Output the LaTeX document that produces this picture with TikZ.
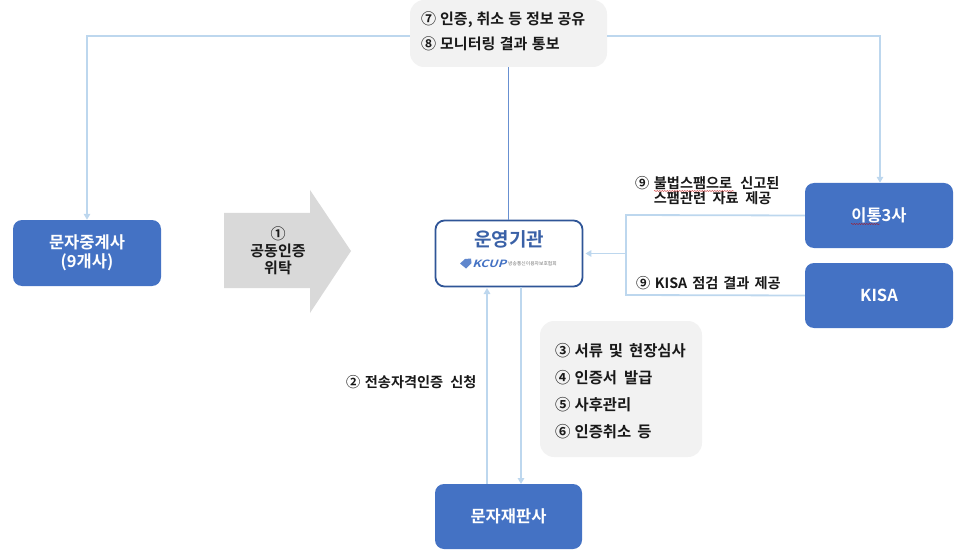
\documentclass[tikz,border=0pt]{standalone}
\usepackage{fontspec}
\setmainfont{Noto Sans CJK KR}[BoldFont={Noto Sans CJK KR Bold}]
\usetikzlibrary{arrows.meta,decorations.pathmorphing}
\definecolor{boxblue}{HTML}{4472C4}
\definecolor{linkblue}{HTML}{BDD7EE}
\definecolor{darkedge}{HTML}{2F5597}
\definecolor{softgray}{HTML}{F2F2F2}
\definecolor{arrowgray}{HTML}{D9D9D9}
\newcommand{\numgap}{\hspace{4.5pt}}
\newcommand{\wg}[1]{\hspace{#1pt}}
\tikzset{
  x=1pt,y=-1pt,
  bluebox/.style={draw=none,fill=boxblue,rounded corners=9pt,text=white,font=\fontsize{16.5}{19.5}\selectfont\bfseries,align=center,minimum width=148pt,minimum height=66pt,inner sep=0pt},
  graybox/.style={draw=none,fill=softgray,rounded corners=14pt,inner sep=0pt},
  lbl/.style={font=\fontsize{14.2}{15.2}\selectfont\bfseries,text=black!90,anchor=west,inner sep=0pt},
  lbltop/.style={lbl,font=\fontsize{15}{16}\selectfont\bfseries},
  lblside/.style={lbl,font=\fontsize{15.4}{16}\selectfont\bfseries},
  link/.style={draw=linkblue,line width=1.8pt},
  linkar/.style={link,-{Triangle[length=6pt,width=6.5pt]}},
  squiggle/.style={draw=red!75!black,line width=.35pt,decorate,decoration={snake,amplitude=.5pt,segment length=2.5pt}}
}
\begin{document}
\begin{tikzpicture}
\useasboundingbox (0,0) rectangle (966,556);
\node[bluebox] (relay) at (87,253) {문자중계사\\(9개사)};
\node[bluebox,minimum height=65pt] (carrier) at (879,215.5) {이통3사};
\node[bluebox,minimum height=65pt] (kisa) at (879,295.5) {KISA};
\node[bluebox,minimum width=147pt,minimum height=65pt] (resale) at (508.5,516.5) {문자재판사};
\node[draw=darkedge,line width=1.8pt,fill=white,rounded corners=9pt,minimum width=147pt,minimum height=66pt,inner sep=0pt] (op) at (509,253.5) {};
\node[font=\fontsize{19}{22}\selectfont\bfseries,text=boxblue!85!black,inner sep=0pt] (optitle) at (509,239) {운영기관};
\node[font=\fontsize{10}{10}\selectfont\bfseries\addfontfeature{FakeSlant=0.25},text=boxblue,inner sep=0pt,anchor=west,xscale=1.25] (kcup) at (472,263.5) {KCUP};
\node[font=\fontsize{4.8}{5}\selectfont,text=black!55,inner sep=0pt,anchor=west] (kcupname) at (508,263.5) {방송통신이용자보호협회};
\path[fill=boxblue!85] (460,263.5) -- (465,259) -- (471,258.5) -- (471.5,263) -- (466,268.5) -- cycle;
\node[graybox,minimum width=197pt,minimum height=67pt] (topnote) at (508.5,33.5) {};
\node[graybox,minimum width=162pt,minimum height=136pt] (sidenote) at (621,389) {};
\coordinate (tl) at (87,36);
\coordinate (tr) at (880,36);
\coordinate (jt) at (626,215);
\coordinate (jb) at (626,295);
\coordinate (jm) at (626,253.5);
\draw[linkar] (topnote.west |- 0,36) -- (tl) -- (relay.north);
\draw[linkar] (topnote.east |- 0,36) -- (tr) -- (tr |- carrier.north);
\draw[draw=boxblue!70!linkblue,line width=.9pt] (topnote.south) -- (topnote.south |- op.north);
\draw[link] (carrier.west) -- (jt) -- (jb) -- (kisa.west);
\draw[linkar] (jm) -- ([xshift=2pt]op.east);
\draw[linkar] (487,484) coordinate (ru) -- (487,288);
\draw[linkar] (521,287) coordinate (rd) -- (521,484);
\path[fill=arrowgray] (224,213) -- (310,213) -- (310,190) -- (351,251) -- (310,313) -- (310,288) -- (224,288) -- cycle;
\node[font=\fontsize{15}{17}\selectfont\bfseries,align=center,text=black!90,inner sep=0pt] (n1) at (278,251) {①\\공동인증\\위탁};
\node[lbltop] (n7) at (421,20) {⑦\wg{4}인증,\wg{4}취소\wg{4}등\wg{4}정보\wg{4}공유};
\node[lbltop] (n8) at (421,44) {⑧\wg{4}모니터링\wg{4.5}결과\wg{4.5}통보};
\node[lbl,align=left] (n9a) at (635,191) {⑨\numgap 불법스팸으로\wg{8}신고된\\\phantom{⑨}\numgap 스팸관련\wg{6.5}자료\wg{6.5}제공};
\node[lbl] (n9b) at (636,283) {⑨\numgap KISA\wg{5}점검\wg{5}결과\wg{5}제공};
\node[lbl] (n2) at (346,382) {②\numgap 전송자격인증\wg{7}신청};
\node[lblside] (n3) at (555,351) {③\wg{4}서류\wg{6}및\wg{6}현장심사};
\node[lblside] (n4) at (555,378) {④\wg{4}인증서\wg{7}발급};
\node[lblside] (n5) at (555,405) {⑤\wg{4}사후관리};
\node[lblside] (n6) at (555,432) {⑥\wg{4}인증취소\wg{6}등};
\draw[squiggle] (654,191) -- (734,191);
\draw[squiggle] (851,224) -- (880,224);
\end{tikzpicture}
\end{document}
